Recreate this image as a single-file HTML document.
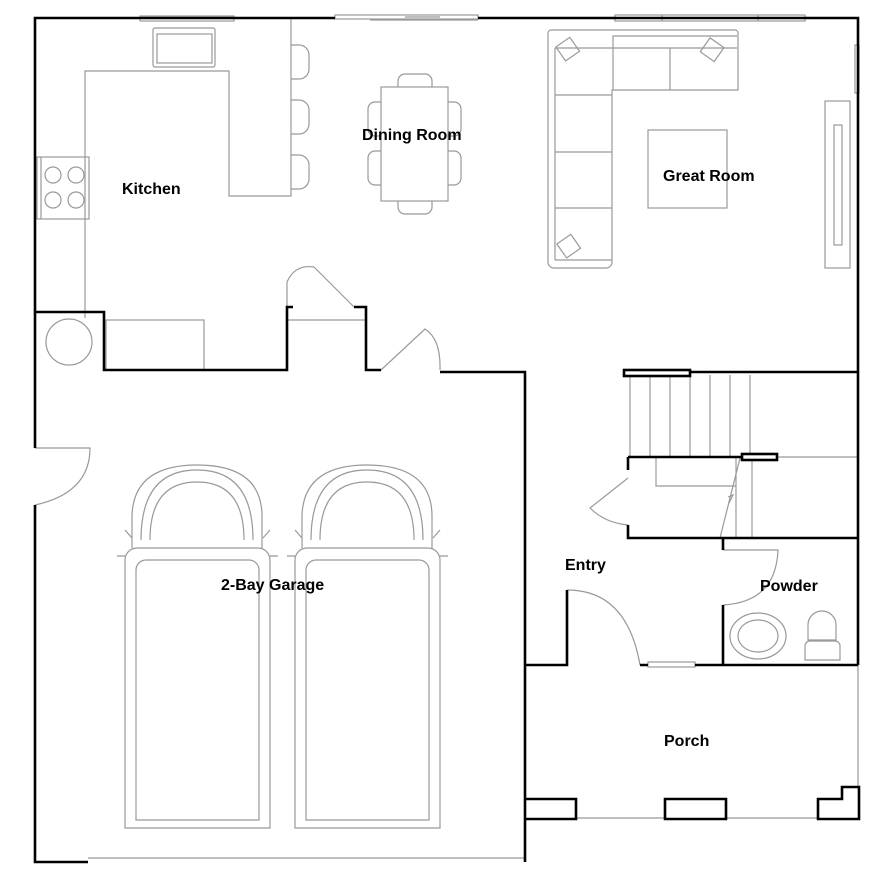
<!DOCTYPE html>
<html><head><style>
body{margin:0;background:#fff}
svg{display:block}
text{font-family:"Liberation Sans",sans-serif;font-size:16px;font-weight:bold;fill:#000}
</style></head><body>
<svg width="886" height="887" viewBox="0 0 886 887" xmlns="http://www.w3.org/2000/svg">
<g fill="none" stroke="#999" stroke-width="1.2">
<!-- kitchen -->
<rect x="153" y="28" width="62" height="39" rx="2"/><rect x="157" y="34" width="55" height="29"/>
<polyline points="85,318 85,71 229,71 229,196 291,196 291,18"/>
<path d="M291,45 h8 a10,10 0 0 1 10,10 v14 a10,10 0 0 1 -10,10 h-8 M291,100 h8 a10,10 0 0 1 10,10 v14 a10,10 0 0 1 -10,10 h-8 M291,155 h8 a10,10 0 0 1 10,10 v14 a10,10 0 0 1 -10,10 h-8"/>
<rect x="37" y="157" width="52" height="62"/><line x1="41" y1="157" x2="41" y2="219"/>
<circle cx="53" cy="175" r="8"/><circle cx="76" cy="175" r="8"/><circle cx="53" cy="200" r="8"/><circle cx="76" cy="200" r="8"/>
<rect x="106" y="320" width="98" height="50"/>
<circle cx="69" cy="342" r="23"/>
<line x1="288" y1="320" x2="366" y2="320"/>
<!-- dining -->
<rect x="381" y="87" width="67" height="114"/>
<path d="M398,87 v-6 a7,7 0 0 1 7,-7 h20 a7,7 0 0 1 7,7 v6 M398,201 v6 a7,7 0 0 0 7,7 h20 a7,7 0 0 0 7,-7 v-6 M381,102 h-6 a7,7 0 0 0 -7,7 v20 a7,7 0 0 0 7,7 h6 M381,151 h-6 a7,7 0 0 0 -7,7 v20 a7,7 0 0 0 7,7 h6 M448,102 h6 a7,7 0 0 1 7,7 v20 a7,7 0 0 1 -7,7 h-6 M448,151 h6 a7,7 0 0 1 7,7 v20 a7,7 0 0 1 -7,7 h-6"/>
<line x1="370" y1="20" x2="478" y2="20"/><line x1="405" y1="17" x2="440" y2="17"/>
<!-- great room sofa -->
<path d="M548,33 a3,3 0 0 1 3,-3 h184 a3,3 0 0 1 3,3 v57 h-126 v172 a6,6 0 0 1 -6,6 h-52 a6,6 0 0 1 -6,-6 z"/>
<path d="M555,48 h58 v-12 h124 M613,48 v42 M555,48 v212 M555,95 h57 M555,152 h57 M555,208 h57 M670,48 v42 M613,48 h124 M612,260 h-57"/>
<rect x="559" y="41" width="17" height="17" transform="rotate(-35 567 49)"/>
<rect x="704" y="41" width="17" height="17" transform="rotate(35 712 49)"/>
<rect x="560" y="238" width="17" height="17" transform="rotate(-35 568 246)"/>
<rect x="648" y="130" width="79" height="78"/>
<rect x="825" y="101" width="25" height="167"/><rect x="834" y="125" width="8" height="120"/>
<rect x="855" y="45" width="4" height="48"/>
<!-- stairs -->
<path d="M630,375 v82 M650,375 v82 M670,375 v82 M690,375 v82 M710,375 v82 M730,375 v82 M750,375 v82 M777,457 h81 M656,457 v29 h80 M736,457 v81 M752,457 v81 M720,538 l20,-80 M728,497 l5,-2 l-4,8"/>
<!-- powder -->
<ellipse cx="758" cy="636" rx="28" ry="23"/><ellipse cx="758" cy="636" rx="20" ry="16"/>
<path d="M808,640 v-15 a14,14 0 0 1 28,0 v15 z M805,660 v-14 a5,5 0 0 1 5,-5 h25 a5,5 0 0 1 5,5 v14 z"/>
<!-- garage cars -->
<g id="car">
<path d="M125,828 V560 a12,12 0 0 1 12,-12 h121 a12,12 0 0 1 12,12 V828 z"/>
<path d="M136,820 V570 a10,10 0 0 1 10,-10 h103 a10,10 0 0 1 10,10 V820 z"/>
<path d="M132,548 V515 q2,-50 65,-50 q64,0 65,50 V548"/>
<path d="M141,540 q0,-70 56,-70 q56,0 56,70"/>
<path d="M150,540 q0,-58 47,-58 q47,0 47,58"/>
<path d="M125,530 l7,8 M270,530 l-7,8 M117,556 h8 M270,556 h8"/>
</g>
<use href="#car" x="170"/>
<!-- porch -->
<path d="M858,665 V788 M575,818 H665 M726,818 H818"/>
<line x1="88" y1="858" x2="525" y2="858"/>
<!-- windows -->
<rect x="140" y="16" width="94" height="5"/>
<rect x="615" y="15" width="190" height="6"/><line x1="662" y1="15" x2="662" y2="21"/><line x1="758" y1="15" x2="758" y2="21"/>
<rect x="335" y="15" width="143" height="4"/>
<rect x="648" y="662" width="47" height="5"/>
<!-- door swing arcs -->
<path d="M287,307 v-25 q8,-18 27,-15 M314,267 l40,40"/>
<path d="M381,370 l44,-41 q16,10 15,41"/>
<path d="M35,448 q52,0 55,0 q0,45 -55,57"/>
<path d="M628,478 l-38,30 q15,15 38,17"/>
<path d="M723,550 h55 q-2,52 -55,55"/>
<path d="M567,590 q60,0 73,75"/>
</g>
<g fill="none" stroke="#000" stroke-width="2.6">
<path d="M35,448 V18 H335 M478,18 H858 V665"/>
<path d="M35,505 V862 H88"/>
<path d="M35,312 H104 V370 H287 V307 H293 M354,307 H366 V370 H381 M440,372 H525 V862"/>
<path d="M625,372 H858 M628,457 H742 M628,457 v13 M628,525 v13 H858"/>
<path d="M723,538 v12 M723,605 V665 H858 M695,665 H723 M525,665 H567 V590 M640,665 h8"/>
<rect x="624" y="370" width="66" height="6" fill="#fff"/>
<rect x="742" y="454" width="35" height="6" fill="#fff"/>
<path d="M525,799 H576 V819 H525 M665,799 H726 V819 H665 Z M818,819 V799 H842 V787 H859 V819 Z"/>
</g>
<text x="122" y="194">Kitchen</text>
<text x="362" y="140">Dining Room</text>
<text x="663" y="181">Great Room</text>
<text x="221" y="590">2-Bay Garage</text>
<text x="565" y="570">Entry</text>
<text x="760" y="591">Powder</text>
<text x="664" y="746">Porch</text>
</svg>
</body></html>
